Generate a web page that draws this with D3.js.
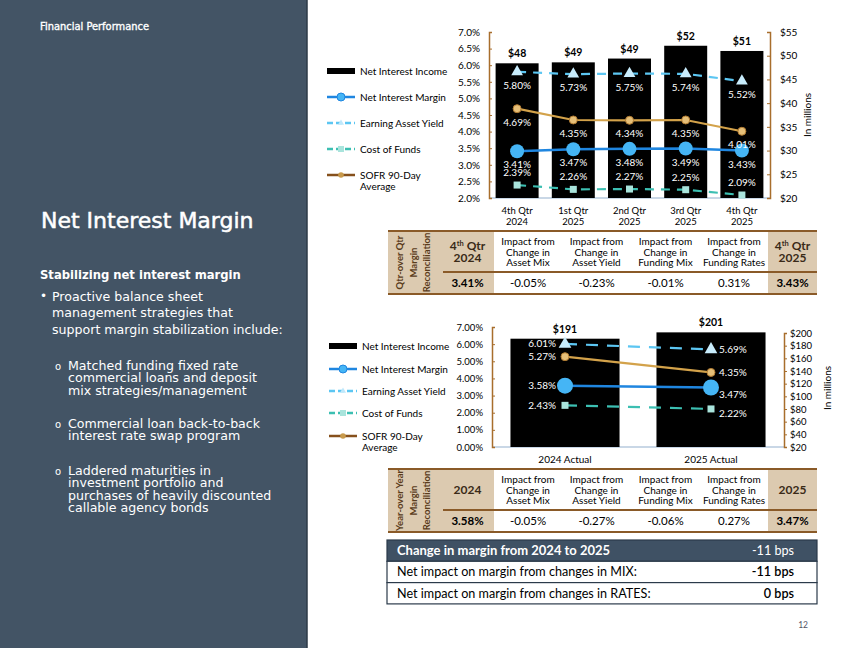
<!DOCTYPE html>
<html><head><meta charset="utf-8">
<script src="https://cdn.jsdelivr.net/npm/d3@7"></script>
<style>
html,body{margin:0;padding:0;background:#fff;}
svg{display:block;font-family:Lato,"Open Sans",sans-serif;}
</style></head>
<body><svg id="c" width="850" height="648"></svg>
<script>
// ---------- DATA ----------
const quarters = [["4th Qtr","2024"],["1st Qtr","2025"],["2nd Qtr","2025"],["3rd Qtr","2025"],["4th Qtr","2025"]];
const niiQ  = [48.4, 48.6, 49.4, 52.1, 51.0];
const nimQ  = [3.41, 3.47, 3.48, 3.49, 3.43];
const eayQ  = [5.80, 5.73, 5.75, 5.74, 5.52];
const cofQ  = [2.39, 2.26, 2.27, 2.25, 2.09];
const sofrQ = [4.69, 4.35, 4.34, 4.35, 4.01];
const qPctTicks = [2.0,2.5,3.0,3.5,4.0,4.5,5.0,5.5,6.0,6.5,7.0];
const qDolTicks = [20,25,30,35,40,45,50,55];

const years = ["2024 Actual","2025 Actual"];
const niiY  = [191, 201];
const nimY  = [3.58, 3.47];
const eayY  = [6.01, 5.69];
const cofY  = [2.43, 2.22];
const sofrY = [5.27, 4.35];
const yPctTicks = [0,1,2,3,4,5,6,7];
const yDolTicks = [20,40,60,80,100,120,140,160,180,200];

const legendItems = ["Net Interest Income","Net Interest Margin","Earning Asset Yield","Cost of Funds","SOFR 90-Day|Average"];
const reconHeaders = ["Impact from|Change in|Asset Mix","Impact from|Change in|Asset Yield","Impact from|Change in|Funding Mix","Impact from|Change in|Funding Rates"];
const qtrRecon = ["3.41%","-0.05%","-0.23%","-0.01%","0.31%","3.43%"];
const yoyRecon = ["3.58%","-0.05%","-0.27%","-0.06%","0.27%","3.47%"];
const changeRows = [["Change in margin from 2024 to 2025","-11 bps"],["Net impact on margin from changes in MIX:","-11 bps"],["Net impact on margin from changes in RATES:","0 bps"]];

const sideBullet = ["Proactive balance sheet","management strategies that","support margin stabilization include:"];
const subBullets = [["Matched funding fixed rate","commercial loans and deposit","mix strategies/management"],["Commercial loan back-to-back","interest rate swap program"],["Laddered maturities in","investment portfolio and","purchases of heavily discounted","callable agency bonds"]];

// ---------- STYLE ----------
const C = {panel:"#435465", nim:"#1f86e0", nimDot:"#45b5f5", eay:"#5cc6f2", cof:"#3cbfb2", sofr:"#d3a24a", sofrLeg:"#86501c", axis:"#a86e2c", tan:"#dccab0", brown:"#8a5a28", base:"#c9d7e6"};
const svg = d3.select("#c");
const SIDEFONT = "'DejaVu Sans',Verdana,sans-serif";

// ---------- LEFT PANEL ----------
svg.append("rect").attr("x",0).attr("y",0).attr("width",307).attr("height",648).attr("fill",C.panel);
svg.append("line").attr("x1",307).attr("x2",307).attr("y1",0).attr("y2",648).attr("stroke","#2c3a47").attr("stroke-width",1.5);
const lp = svg.append("g").attr("fill","#fff").attr("font-family",SIDEFONT);
lp.append("text").attr("x",40).attr("y",30).attr("font-size",9.9).attr("stroke","#fff").attr("stroke-width",0.35).text("Financial Performance");
lp.append("text").attr("x",41).attr("y",228).attr("font-size",22).attr("stroke","#fff").attr("stroke-width",0.5).text("Net Interest Margin");
lp.append("text").attr("x",40).attr("y",279).attr("font-size",11.6).attr("font-weight",700).text("Stabilizing net interest margin");
lp.append("text").attr("x",40).attr("y",300).attr("font-size",12).text("•");
sideBullet.forEach((t,i)=>lp.append("text").attr("x",52).attr("y",301+i*16.3).attr("font-size",12.6).text(t));
const subStart=[370,428,475];
subBullets.forEach((lines,k)=>{
  lp.append("text").attr("x",55).attr("y",subStart[k]).attr("font-size",10).text("o");
  lines.forEach((t,i)=>lp.append("text").attr("x",68).attr("y",subStart[k]+i*12.3).attr("font-size",12.6).text(t));
});

// ---------- helpers ----------
function legend(g, x, ys){
  legendItems.forEach((lab,i)=>{
    const y=ys[i], gg=g.append("g");
    if(i===0) gg.append("rect").attr("x",x).attr("y",y-3).attr("width",28).attr("height",6).attr("fill","#000");
    else {
      const col=[null,C.nim,C.eay,C.cof,C.sofrLeg][i];
      gg.append("line").attr("x1",x).attr("x2",x+28).attr("y1",y).attr("y2",y).attr("stroke",col).attr("stroke-width",2.5)
        .attr("stroke-dasharray",(i===2||i===3)?"6,3":null);
      if(i===1) gg.append("circle").attr("cx",x+14).attr("cy",y).attr("r",4).attr("fill",C.nimDot).attr("stroke",C.nim);
      if(i===2) gg.append("path").attr("d",d3.symbol(d3.symbolTriangle,16)()).attr("transform",`translate(${x+14},${y})`).attr("fill","#bfe8fb");
      if(i===3) gg.append("rect").attr("x",x+11).attr("y",y-3).attr("width",6).attr("height",6).attr("fill","#a9e4dc");
      if(i===4) gg.append("circle").attr("cx",x+14).attr("cy",y).attr("r",2.8).attr("fill","#c89a4c");
    }
    lab.split("|").forEach((t,j)=>gg.append("text").attr("x",x+33).attr("y",y+3.5+j*11.5).attr("font-size",10).attr("fill","#000").text(t));
  });
}

function drawSeries(g, xs, vals, yS, cfg){
  const pts = vals.map((v,i)=>[xs[i], yS(v)]);
  g.append("path").attr("d",d3.line()(pts)).attr("fill","none").attr("stroke",cfg.color).attr("stroke-width",cfg.w||2.2)
   .attr("stroke-dasharray",cfg.dash||null);
  pts.forEach(p=>{
    if(cfg.mark==="circle") g.append("circle").attr("cx",p[0]).attr("cy",p[1]).attr("r",cfg.r).attr("fill",cfg.fill).attr("stroke",cfg.stroke||"none").attr("stroke-width",1);
    if(cfg.mark==="tri") g.append("path").attr("d",d3.symbol(d3.symbolTriangle,cfg.size)()).attr("transform",`translate(${p[0]},${p[1]})`).attr("fill",cfg.fill);
    if(cfg.mark==="sq") g.append("rect").attr("x",p[0]-cfg.s/2).attr("y",p[1]-cfg.s/2).attr("width",cfg.s).attr("height",cfg.s).attr("fill",cfg.fill);
  });
  return pts;
}

// ---------- TOP CHART ----------
const tx = d3.scaleBand().domain(quarters.map(d=>d.join(" "))).range([489,770]).paddingInner(0.235).paddingOuter(0.1175);
const tyL = d3.scaleLinear().domain([2,7]).range([198,32]);
const tyR = d3.scaleLinear().domain([20,55]).range([198,32]);
const topG = svg.append("g");
topG.append("line").attr("x1",489).attr("x2",770).attr("y1",198).attr("y2",198).attr("stroke",C.base).attr("stroke-width",2);
const qKeys = quarters.map(d=>d.join(" "));
topG.selectAll(".bar").data(niiQ).join("rect").attr("x",(d,i)=>tx(qKeys[i])).attr("width",tx.bandwidth())
  .attr("y",d=>tyR(d)).attr("height",d=>198-tyR(d)).attr("fill","#000");
topG.selectAll(".bl").data(niiQ).join("text").attr("x",(d,i)=>tx(qKeys[i])+tx.bandwidth()/2).attr("y",d=>tyR(d)-6)
  .attr("text-anchor","middle").attr("font-size",10.5).attr("font-weight",700).text(d=>"$"+Math.round(d));
const gL = topG.append("g").attr("transform","translate(489,0)").call(d3.axisRight(tyL).tickValues(qPctTicks).tickSize(3).tickFormat(d=>d.toFixed(1)+"%"));
gL.selectAll("text").attr("x",-9).attr("text-anchor","end");
const gR = topG.append("g").attr("transform","translate(770,0)").call(d3.axisLeft(tyR).tickValues(qDolTicks).tickSize(3).tickFormat(d=>"$"+d));
gR.selectAll("text").attr("x",10).attr("text-anchor","start");
[gL,gR].forEach(a=>{a.select(".domain").attr("stroke",C.axis).attr("stroke-width",1.5);a.selectAll("line").attr("stroke",C.axis);
  a.selectAll("text").attr("font-size",10).attr("fill","#000").attr("font-family","Lato,sans-serif");});
topG.append("text").attr("transform","translate(811,115) rotate(-90)").attr("text-anchor","middle").attr("font-size",10).text("In millions");
quarters.forEach((q,i)=>{
  q.forEach((t,j)=>topG.append("text").attr("x",tx(qKeys[i])+tx.bandwidth()/2).attr("y",214+j*11).attr("text-anchor","middle").attr("font-size",9.5).text(t));
});
const qx = qKeys.map(k=>tx(k)+tx.bandwidth()/2);
const lt = topG.append("g");
drawSeries(lt,qx,cofQ,tyL,{color:C.cof,dash:"9,7",mark:"sq",s:7,fill:"#a9e4dc"});
drawSeries(lt,qx,eayQ,tyL,{color:C.eay,dash:"9,7",mark:"tri",size:60,fill:"#c8ecfc"});
drawSeries(lt,qx,sofrQ,tyL,{color:C.sofr,mark:"circle",r:4,fill:"#e6bf78",stroke:"#b07a30"});
drawSeries(lt,qx,nimQ,tyL,{color:C.nim,w:2.5,mark:"circle",r:7,fill:C.nimDot});
const lab = topG.append("g").attr("fill","#fff").attr("font-size",10).attr("text-anchor","middle");
[[eayQ,17],[sofrQ,17],[nimQ,17],[cofQ,-9]].forEach(([vals,off])=>{
  vals.forEach((v,i)=>lab.append("text").attr("x",qx[i]).attr("y",tyL(v)+off).text(v.toFixed(2)+"%"));
});
legend(topG,327,[71,97,123,149,175]);

// ---------- TABLES ----------
function reconTable(y0, sideLines, firstHdr, lastHdr, values){
  const g=svg.append("g");
  const X=[388,437,494,562,631,700,768,817];
  const hB=y0+41, yEnd=y0+63;
  g.append("rect").attr("x",X[0]).attr("y",y0).attr("width",X[1]-X[0]).attr("height",yEnd-y0).attr("fill",C.tan);
  g.append("rect").attr("x",X[1]).attr("y",y0).attr("width",X[2]-X[1]).attr("height",yEnd-y0).attr("fill",C.tan);
  g.append("rect").attr("x",X[6]).attr("y",y0).attr("width",X[7]-X[6]).attr("height",yEnd-y0).attr("fill",C.tan);
  g.append("line").attr("x1",X[0]).attr("x2",X[7]).attr("y1",y0).attr("y2",y0).attr("stroke",C.brown).attr("stroke-width",2);
  g.append("line").attr("x1",X[0]).attr("x2",X[7]).attr("y1",yEnd).attr("y2",yEnd).attr("stroke",C.brown).attr("stroke-width",2);
  g.append("line").attr("x1",X[1]+6).attr("x2",X[7]).attr("y1",hB).attr("y2",hB).attr("stroke",C.brown).attr("stroke-width",2);
  sideLines.forEach((t,i)=>g.append("text").attr("transform",`translate(${403+i*13.5},${(y0+yEnd)/2}) rotate(-90)`)
    .attr("text-anchor","middle").attr("font-size",9.5).attr("font-weight",700).attr("fill","#5a3c1c").text(t));
  [[firstHdr,(X[1]+X[2])/2+2],[lastHdr,(X[6]+X[7])/2]].forEach(([h,cx])=>{
    const lines=h.split("|");
    lines.forEach((t,j)=>{
      const tt=g.append("text").attr("x",cx).attr("y",y0+(lines.length===2?19:25)+j*11.5).attr("text-anchor","middle").attr("font-size",12).attr("font-weight",700).attr("fill","#3a2a18");
      if(t.includes("th ")){tt.append("tspan").text("4");tt.append("tspan").attr("font-size",7.5).attr("dy",-4).text("th");tt.append("tspan").attr("dy",4).text(" Qtr");}
      else tt.text(t);
    });
  });
  reconHeaders.forEach((h,i)=>{
    h.split("|").forEach((t,j)=>g.append("text").attr("x",(X[i+2]+X[i+3])/2).attr("y",y0+14+j*10.5).attr("text-anchor","middle").attr("font-size",10).attr("fill","#000").text(t));
  });
  values.forEach((v,i)=>g.append("text").attr("x",(X[i+1]+X[i+2])/2+(i===0?2:0)).attr("y",y0+56).attr("text-anchor","middle")
    .attr("font-size",11.5).attr("font-weight",(i===0||i===5)?700:400).attr("fill","#000").text(v));
}
reconTable(231,["Qtr-over Qtr","Margin","Reconciliation"],"4th Qtr|2024","4th Qtr|2025",qtrRecon);
reconTable(469,["Year-over Year","Margin","Reconciliation"],"2024","2025",yoyRecon);

// ---------- BOTTOM CHART ----------
const bx = d3.scaleBand().domain(years).range([492,784]).paddingInner(0.253).paddingOuter(0.1265);
const byL = d3.scaleLinear().domain([0,7]).range([447,327]);
const byR = d3.scaleLinear().domain([20,200]).range([447,333]);
const botG = svg.append("g");
botG.append("line").attr("x1",492).attr("x2",784).attr("y1",447).attr("y2",447).attr("stroke",C.base).attr("stroke-width",2);
botG.selectAll(".bar").data(niiY).join("rect").attr("x",(d,i)=>bx(years[i])).attr("width",bx.bandwidth())
  .attr("y",d=>byR(d)).attr("height",d=>447-byR(d)).attr("fill","#000");
botG.selectAll(".bl").data(niiY).join("text").attr("x",(d,i)=>bx(years[i])+bx.bandwidth()/2).attr("y",d=>byR(d)-6)
  .attr("text-anchor","middle").attr("font-size",10.5).attr("font-weight",700).text(d=>"$"+d);
const bL = botG.append("g").attr("transform","translate(492,0)").call(d3.axisRight(byL).tickValues(yPctTicks).tickSize(3).tickFormat(d=>d.toFixed(2)+"%"));
bL.selectAll("text").attr("x",-9).attr("text-anchor","end");
const bR = botG.append("g").attr("transform","translate(784,0)").call(d3.axisRight(byR).tickValues(yDolTicks).tickSize(3).tickFormat(d=>"$"+d));
bR.selectAll("text").attr("x",6);
[bL,bR].forEach(a=>{a.select(".domain").attr("stroke",C.axis).attr("stroke-width",1.5);a.selectAll("line").attr("stroke",C.axis);
  a.selectAll("text").attr("font-size",9.5).attr("fill","#000").attr("font-family","Lato,sans-serif");});
botG.append("text").attr("transform","translate(831,388) rotate(-90)").attr("text-anchor","middle").attr("font-size",10).text("In millions");
years.forEach((t,i)=>botG.append("text").attr("x",bx(t)+bx.bandwidth()/2).attr("y",463).attr("text-anchor","middle").attr("font-size",10).text(t));
const yx = years.map(t=>bx(t)+bx.bandwidth()/2);
const lb = botG.append("g");
drawSeries(lb,yx,cofY,byL,{color:C.cof,dash:"12,9",mark:"sq",s:7,fill:"#a9e4dc"});
drawSeries(lb,yx,eayY,byL,{color:C.eay,dash:"12,9",mark:"tri",size:70,fill:"#c8ecfc"});
drawSeries(lb,yx,sofrY,byL,{color:C.sofr,mark:"circle",r:4,fill:"#e6bf78",stroke:"#b07a30"});
drawSeries(lb,yx,nimY,byL,{color:C.nim,w:2.5,mark:"circle",r:8,fill:C.nimDot});
const blab = botG.append("g").attr("fill","#fff").attr("font-size",10);
[[eayY,0,0],[sofrY,0,0],[nimY,0,7],[cofY,0,5]].forEach(([vals,offL,offR])=>{
  blab.append("text").attr("x",yx[0]-9).attr("y",byL(vals[0])+offL+3.5).attr("text-anchor","end").text(vals[0].toFixed(2)+"%");
  blab.append("text").attr("x",yx[1]+8).attr("y",byL(vals[1])+offR+3.5).attr("text-anchor","start").text(vals[1].toFixed(2)+"%");
});
legend(botG,329,[346,369,391,413,436]);

// ---------- CHANGE TABLE ----------
const ct = svg.append("g");
changeRows.forEach((r,i)=>{
  const y=540+i*21.3;
  ct.append("rect").attr("x",387).attr("y",y).attr("width",430).attr("height",21.3).attr("fill",i===0?"#3f5164":"#fff").attr("stroke","#2b3a4a").attr("stroke-width",1.2);
  ct.append("text").attr("x",397).attr("y",y+15).attr("font-size",i===0?13:12.6).attr("font-weight",i===0?700:400).attr("fill",i===0?"#fff":"#000").text(r[0]);
  ct.append("text").attr("x",794).attr("y",y+15).attr("text-anchor","end").attr("font-size",12.6).attr("font-weight",i===0?400:600).attr("fill",i===0?"#fff":"#000").text(r[1]);
});
svg.append("text").attr("x",808).attr("y",628).attr("text-anchor","end").attr("font-size",8.5).attr("fill","#556").text("12");
</script></body></html>
